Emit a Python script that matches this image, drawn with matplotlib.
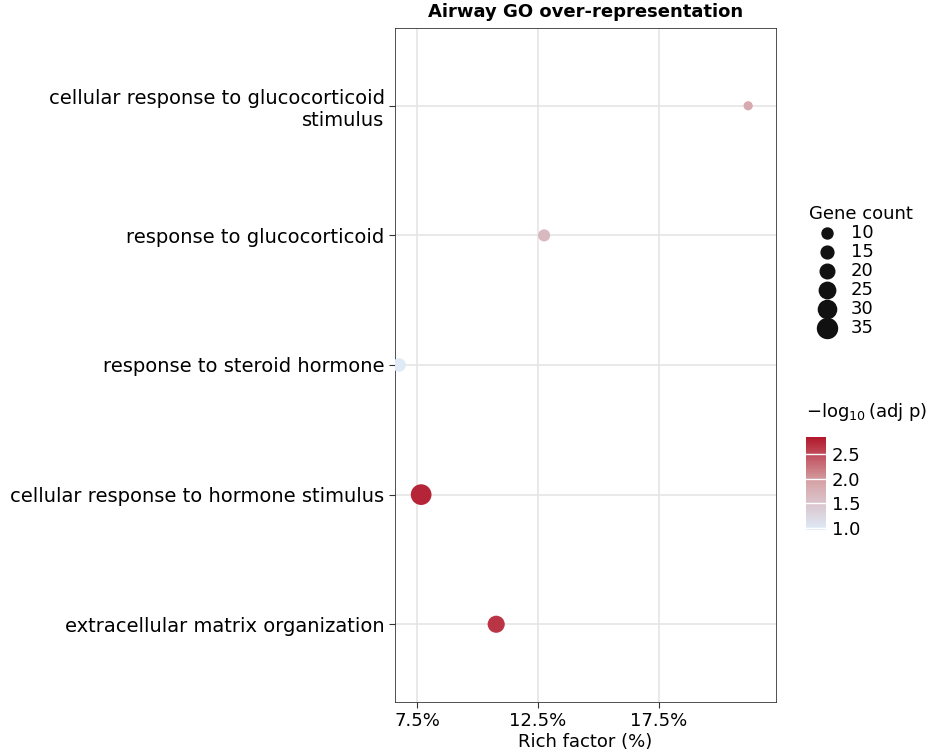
import matplotlib
matplotlib.use("Agg")
import matplotlib.pyplot as plt
from matplotlib.colors import LinearSegmentedColormap, Normalize
import numpy as np

terms = ["extracellular matrix organization", "cellular response to hormone stimulus",
         "response to steroid hormone", "response to glucocorticoid",
         "cellular response to glucocorticoid\nstimulus"]
rich = [10.77, 7.67, 6.76, 12.75, 21.18]
counts = [27, 37, 17, 13, 5]
logp = [2.65, 2.75, 0.95, 1.65, 1.85]
size_breaks = [10, 15, 20, 25, 30, 35]
xticks = [7.5, 12.5, 17.5]

def sz(c):
    d = (11 + (np.asarray(c) - 10) / 25 * 9) * 0.72
    return d ** 2

cmap = LinearSegmentedColormap.from_list("br", ["#deebf7", "#d6a7ab", "#b2182b"])
norm = Normalize(0.96, 2.84)

fig = plt.figure(figsize=(9.45, 7.56), dpi=100)
ax = fig.add_axes([395/945, 1-702/756, 381/945, 674/756])
y = np.arange(len(terms))
ax.scatter(rich, y, s=sz(counts), c=logp, cmap=cmap, norm=norm, zorder=3, linewidths=0)
ax.set_xlim(6.59, 22.33)
ax.set_ylim(-0.6, 4.6)
ax.set_yticks(y)
ax.set_yticklabels(terms, fontsize=14, ha="right", multialignment="right")
ax.set_xticks(xticks)
ax.set_xticklabels([f"{v}%" for v in xticks], fontsize=13)
ax.set_xlabel("Rich factor (%)", fontsize=13, labelpad=2)
ax.grid(True, color="#e5e5e5", lw=1.2, zorder=0)
ax.set_axisbelow(True)
for s in ax.spines.values():
    s.set_color("#333333"); s.set_linewidth(0.6)
ax.tick_params(length=4, color="#333333")
ax.set_title("Airway GO over-representation", fontsize=13, fontweight="bold", pad=8)

handles = [ax.scatter([], [], s=sz(b), color="#111111") for b in size_breaks]
leg = fig.legend(handles, [str(b) for b in size_breaks], title="Gene count",
                 loc="upper left", bbox_to_anchor=(802/945, 1-198/756), frameon=False,
                 fontsize=13, title_fontsize=13, labelspacing=0.05, handletextpad=0.3,
                 borderaxespad=0)
leg._legend_box.align = "left"

cax = fig.add_axes([806/945, 1-530/756, 20/945, 93/756])
cb = fig.colorbar(plt.cm.ScalarMappable(norm=norm, cmap=cmap), cax=cax, ticks=[1.0, 1.5, 2.0, 2.5])
cb.outline.set_visible(False)
cb.ax.tick_params(labelsize=13, length=0, pad=4)
cb.ax.set_yticklabels(["1.0", "1.5", "2.0", "2.5"])
for t in [1.0, 1.5, 2.0, 2.5]:
    cax.axhline(t, color="white", lw=1)
fig.text(806/945, 1-412/756, r"$-\log_{10}$(adj p)", fontsize=13, va="center")

fig.savefig("out.png", dpi=100)
